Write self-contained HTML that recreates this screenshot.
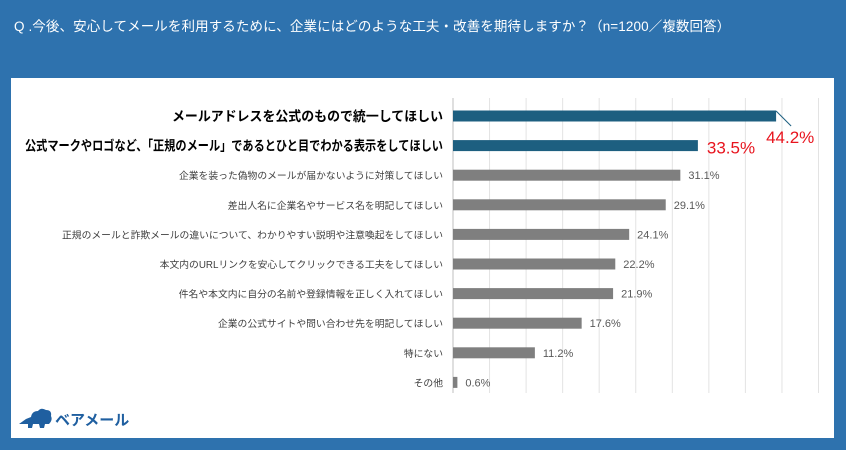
<!DOCTYPE html>
<html><head><meta charset="utf-8"><style>
body{margin:0;width:846px;height:450px;background:#2e72ae;overflow:hidden;font-family:"Liberation Sans","Noto Sans CJK JP",sans-serif;}
#title{position:absolute;left:14px;top:15px;color:#fff;font-size:13.5px;letter-spacing:0.1px;}
#card{position:absolute;left:11px;top:78px;width:823px;height:360px;background:#fff;}
svg{position:absolute;left:0;top:0}
</style></head><body>
<div id="title">Q .今後、安心してメールを利用するために、企業にはどのような工夫・改善を期待しますか？（n=1200／複数回答）</div>
<div id="card"></div>
<svg id="chart" width="846" height="450">
<g>
<path d="M19 424 L26 419 L31 417 Q32 411 38 411 Q41 407 46 410 Q52 410 51 416 Q53 420 49 424 L45 424 L44 428 L40 428 L39 424 L33 424 L32 428 L28 428 L28 424 Z" fill="#1f5fa0"/>
<text x="55" y="425" font-size="15" font-weight="bold" fill="#1f5fa0" font-family="Liberation Sans, Noto Sans CJK JP, sans-serif">ベアメール</text>
</g>
</svg>
<script>
const categories=["メールアドレスを公式のもので統一してほしい","公式マークやロゴなど、「正規のメール」であるとひと目でわかる表示をしてほしい","企業を装った偽物のメールが届かないように対策してほしい","差出人名に企業名やサービス名を明記してほしい","正規のメールと詐欺メールの違いについて、わかりやすい説明や注意喚起をしてほしい","本文内のURLリンクを安心してクリックできる工夫をしてほしい","件名や本文内に自分の名前や登録情報を正しく入れてほしい","企業の公式サイトや問い合わせ先を明記してほしい","特にない","その他"];
const values=[44.2,33.5,31.1,29.1,24.1,22.2,21.9,17.6,11.2,0.6];
const gridTicks=[0,5,10,15,20,25,30,35,40,45,50];
const svg=document.getElementById('chart');
const NS='http://www.w3.org/2000/svg';
const x0=453, pxPer=7.31, yTop=116, rowH=29.6;
const xs=v=>x0+v*pxPer, ys=i=>yTop+i*rowH;
function mk(t,a){const e=document.createElementNS(NS,t);for(const k in a)e.setAttribute(k,a[k]);svg.appendChild(e);return e;}
gridTicks.forEach((t,i)=>{const l=mk('line',{x1:xs(t),x2:xs(t),y1:98,y2:393,stroke:i==0?'#bfbfbf':'#e3e3e3','stroke-width':1});

});
values.forEach((v,i)=>{
const top=i<2, y=ys(i);
const r=mk('rect',{x:x0,y:y-5.5,width:Math.max(v*pxPer,1),height:11,fill:top?'#1d5f80':'#7f7f7f'});


const c=mk('text',{x:443,y:y+(top?5:4),'text-anchor':'end','font-size':top?13.5:9.8,'font-weight':top?'bold':'normal',fill:top?'#000':'#404040'});
c.textContent=categories[i];
if(i==0){c.setAttribute('textLength',271);c.setAttribute('lengthAdjust','spacingAndGlyphs');}
if(i==1){c.setAttribute('textLength',418);c.setAttribute('lengthAdjust','spacingAndGlyphs');}


let lx=xs(v)+8, ly=y+4, fs=11, col='#595959';
if(i==0){lx=xs(v)-10;ly=y+27;fs=17;col='#e8141e';
const ln=mk('line',{x1:xs(v),y1:y-5,x2:xs(v)+15,y2:y+10,stroke:'#1d5f80','stroke-width':1});

}
else if(i==1){lx=xs(v)+9;ly=y+8;fs=17;col='#e8141e';}
const t=mk('text',{x:lx,y:ly,'font-size':fs,fill:col});
t.textContent=v.toFixed(1)+'%';


});
</script>
</body></html>
